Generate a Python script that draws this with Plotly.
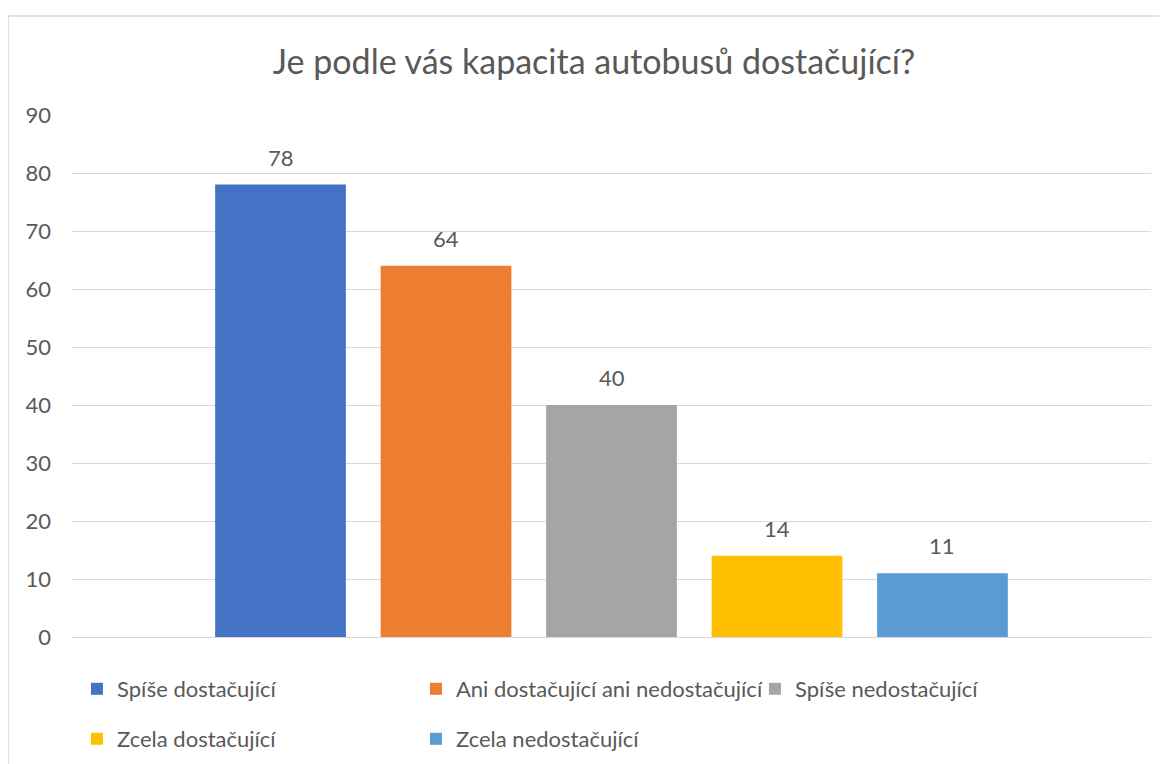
import plotly.graph_objects as go

title = "Je podle vás kapacita autobusů dostačující?"
categories = ["Spíše dostačující", "Ani dostačující ani nedostačující", "Spíše nedostačující",
              "Zcela dostačující", "Zcela nedostačující"]
values = [78, 64, 40, 14, 11]
colors = ["#4472C4", "#ED7D31", "#A5A5A5", "#FFC000", "#5B9BD5"]
legend_rows = ["legend", "legend", "legend", "legend2", "legend2"]
y_ticks = [0, 10, 20, 30, 40, 50, 60, 70, 80, 90]

FONT = "Lato"
TXT = "#595959"
W, H = 1159, 756          # page body has an 8px margin
OFF = 8

fig = go.Figure()
for i, (cat, val, col, lg) in enumerate(zip(categories, values, colors, legend_rows)):
    fig.add_trace(go.Bar(
        x=[i], y=[val], name=cat, marker=dict(color=col, line=dict(width=0)),
        width=0.79, legend=lg, hoverinfo="name+y",
    ))
    fig.add_annotation(x=i, y=val, text=str(val), showarrow=False, yanchor="bottom",
                       yshift=12, font=dict(family=FONT, size=22, color=TXT))

legend_common = dict(orientation="h", x=0.0046, xanchor="left", yanchor="middle", yref="container",
                     entrywidth=294, entrywidthmode="pixels",
                     font=dict(family=FONT, size=22, color=TXT),
                     bgcolor="rgba(0,0,0,0)", itemclick=False)

fig.update_layout(
    width=W, height=H,
    margin=dict(l=72 - OFF, r=W - (1151 - OFF), t=115 - OFF, b=H - (637 - OFF)),
    paper_bgcolor="white", plot_bgcolor="white",
    font=dict(family=FONT, size=22, color=TXT),
    title=dict(text=title, x=(594 - OFF) / W, xanchor="center", y=1 - (62 - OFF) / H,
               yanchor="middle", font=dict(family=FONT, size=34, color=TXT)),
    xaxis=dict(range=[-1.26, 5.26], showticklabels=False, showgrid=False, zeroline=False,
               showline=False, fixedrange=True),
    yaxis=dict(range=[0, 90], tickvals=y_ticks, showgrid=True, gridcolor="#D9D9D9", gridwidth=1,
               zeroline=True, zerolinecolor="#D9D9D9", zerolinewidth=1, showline=False,
               ticklabelstandoff=20, tickfont=dict(family=FONT, size=22, color=TXT)),
    legend=dict(legend_common, y=1 - (689 - OFF) / H),
    legend2=dict(legend_common, y=1 - (739 - OFF) / H),
    showlegend=True,
)
fig.add_shape(type="rect", xref="paper", yref="paper", x0=(8 - 72) / 1079, x1=1.2,
              y0=-0.6, y1=(637 - 16) / 522, line=dict(color="#D9D9D9", width=1.5), layer="below")

fig.write_html("out.html")
